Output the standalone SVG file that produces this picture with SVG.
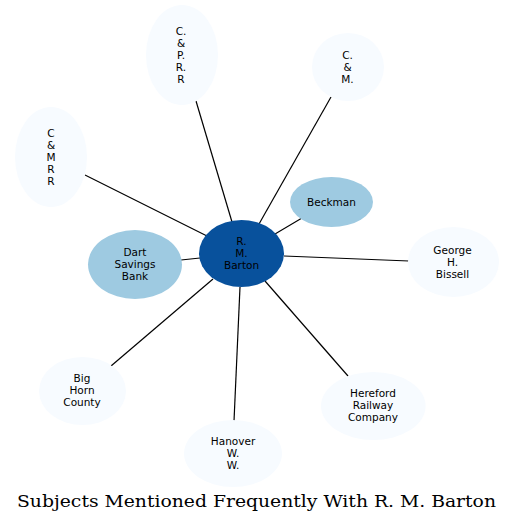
<svg xmlns="http://www.w3.org/2000/svg" width="513" height="523" viewBox="0 0 513 523">
<style>
.lbl{font-family:"DejaVu Sans",sans-serif;font-size:10.5px;fill:#000;text-anchor:middle}
.title{font-family:"DejaVu Serif",serif;font-size:16px;fill:#000}
.e{stroke:#000;stroke-width:1.2;fill:none}
.n0{fill:#f7fbff}
.n1{fill:#9ecae1}
.n2{fill:#08519c}
</style>
<rect width="513" height="523" fill="#fff"/>
<g id="edges">
<line class="e" x1="232" y1="222" x2="196" y2="101"/>
<line class="e" x1="259" y1="224" x2="331" y2="97"/>
<line class="e" x1="275" y1="234" x2="302" y2="218"/>
<line class="e" x1="207" y1="236" x2="85" y2="175"/>
<line class="e" x1="200" y1="258" x2="181" y2="260"/>
<line class="e" x1="284" y1="256" x2="409" y2="261"/>
<line class="e" x1="213" y1="279" x2="111" y2="366"/>
<line class="e" x1="240" y1="287" x2="234" y2="421"/>
<line class="e" x1="265" y1="281" x2="348" y2="376"/>
</g>
<g id="cpr">
<ellipse class="n0" cx="182" cy="55" rx="36" ry="50"/>
<text class="lbl" x="181" y="34.7">C.</text>
<text class="lbl" x="181" y="46.7">&amp;</text>
<text class="lbl" x="181" y="58.7">P.</text>
<text class="lbl" x="181" y="70.7">R.</text>
<text class="lbl" x="181" y="82.7">R</text>
</g>
<g id="cm">
<ellipse class="n0" cx="348" cy="67" rx="36" ry="34"/>
<text class="lbl" x="347.5" y="58.7">C.</text>
<text class="lbl" x="347.5" y="70.7">&amp;</text>
<text class="lbl" x="347.5" y="82.7">M.</text>
</g>
<g id="cmrr">
<ellipse class="n0" cx="51" cy="157" rx="36" ry="50"/>
<text class="lbl" x="51" y="136.7">C</text>
<text class="lbl" x="51" y="148.7">&amp;</text>
<text class="lbl" x="51" y="160.7">M</text>
<text class="lbl" x="51" y="172.7">R</text>
<text class="lbl" x="51" y="184.7">R</text>
</g>
<g id="beckman">
<ellipse class="n1" cx="331.5" cy="202" rx="41.5" ry="25"/>
<text class="lbl" x="331.5" y="205.7">Beckman</text>
</g>
<g id="barton">
<ellipse class="n2" cx="241.5" cy="253.5" rx="42.5" ry="33.5"/>
<text class="lbl" x="241.5" y="244.7">R.</text>
<text class="lbl" x="241.5" y="256.7">M.</text>
<text class="lbl" x="241.5" y="268.7">Barton</text>
</g>
<g id="dart">
<ellipse class="n1" cx="135" cy="264.5" rx="47" ry="34.5"/>
<text class="lbl" x="135" y="255.7">Dart</text>
<text class="lbl" x="135" y="267.7">Savings</text>
<text class="lbl" x="135" y="279.7">Bank</text>
</g>
<g id="bissell">
<ellipse class="n0" cx="453.5" cy="262" rx="45.5" ry="35"/>
<text class="lbl" x="452.5" y="253.7">George</text>
<text class="lbl" x="452.5" y="265.7">H.</text>
<text class="lbl" x="452.5" y="277.7">Bissell</text>
</g>
<g id="bighorn">
<ellipse class="n0" cx="82.5" cy="391" rx="43.5" ry="34"/>
<text class="lbl" x="82" y="381.7">Big</text>
<text class="lbl" x="82" y="393.7">Horn</text>
<text class="lbl" x="82" y="405.7">County</text>
</g>
<g id="hanover">
<ellipse class="n0" cx="233" cy="453.5" rx="49" ry="33.5"/>
<text class="lbl" x="233" y="444.7">Hanover</text>
<text class="lbl" x="233" y="456.7">W.</text>
<text class="lbl" x="233" y="468.7">W.</text>
</g>
<g id="hereford">
<ellipse class="n0" cx="373.3" cy="406" rx="52.3" ry="34"/>
<text class="lbl" x="373" y="396.7">Hereford</text>
<text class="lbl" x="373" y="408.7">Railway</text>
<text class="lbl" x="373" y="420.7">Company</text>
</g>
<text class="title" x="17" y="506.5" textLength="479" lengthAdjust="spacingAndGlyphs">Subjects Mentioned Frequently With R. M. Barton</text>
</svg>
